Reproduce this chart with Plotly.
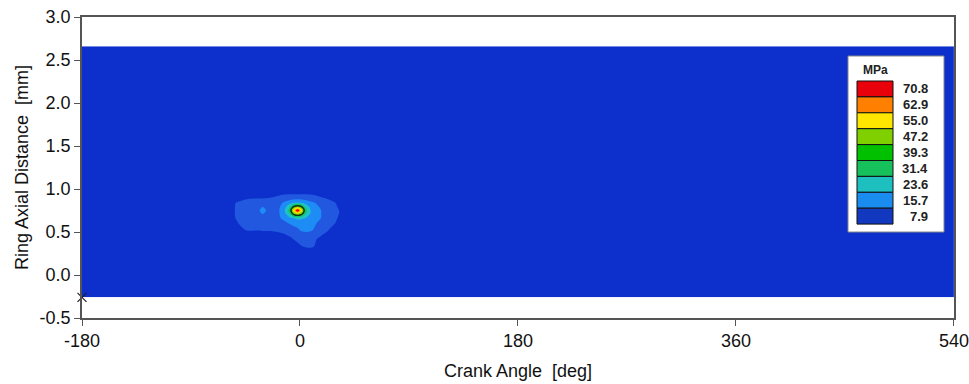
import plotly.graph_objects as go

# ---------------- data ----------------
crank_angle = [-180, -62, -52, -44, -36, -31, -26, -20, -14, -9, -5, -2, 1, 5, 10, 16, 22, 28, 33, 40, 540]
axial_dist = [-0.26, 0.25, 0.33, 0.42, 0.52, 0.60, 0.66, 0.72, 0.75, 0.78, 0.84, 0.90, 0.96, 1.05, 2.66]

p_m026 = [3.0, 3.0, 3.0, 3.0, 3.0, 3.0, 3.0, 3.0, 3.0, 3.0, 3.0, 3.0, 3.0, 3.0, 3.0, 3.0, 3.0, 3.0, 3.0, 3.0, 3.0]
p_025 = [3.5, 3.5, 3.5, 3.5, 3.5, 3.5, 3.5, 3.5, 3.5, 3.5, 3.5, 3.5, 3.5, 3.5, 3.5, 3.5, 3.5, 3.5, 3.5, 3.5, 3.5]
p_033 = [3.5, 3.5, 3.5, 3.5, 3.5, 3.5, 3.5, 3.5, 4.0, 4.5, 5.5, 6.5, 7.5, 8.5, 8.5, 6.0, 4.5, 4.0, 3.5, 3.5, 3.5]
p_042 = [3.5, 3.5, 4.0, 4.0, 4.0, 4.0, 4.0, 4.5, 5.0, 6.5, 8.2, 9.0, 10.0, 10.5, 9.5, 7.0, 5.5, 4.5, 4.0, 3.5, 3.5]
p_052 = [3.5, 4.0, 6.0, 8.0, 8.0, 8.2, 8.2, 8.5, 9.5, 11.0, 12.5, 14.0, 16.5, 17.0, 16.0, 11.5, 8.5, 6.0, 4.5, 4.0, 3.5]
p_060 = [3.5, 5.0, 7.5, 10.0, 10.5, 11.0, 11.0, 11.0, 13.0, 16.0, 18.0, 19.0, 19.5, 19.0, 17.5, 14.5, 10.5, 8.2, 6.5, 4.5, 3.5]
p_066 = [3.5, 5.0, 8.3, 11.0, 12.0, 12.5, 12.5, 13.0, 17.0, 21.0, 23.5, 25.0, 24.5, 23.0, 19.5, 16.5, 13.0, 9.0, 7.0, 4.5, 3.5]
p_072 = [3.5, 5.0, 8.5, 11.5, 13.0, 16.5, 14.0, 12.5, 19.0, 31.0, 52.0, 59.0, 52.0, 32.0, 20.5, 16.5, 13.5, 10.5, 7.5, 4.5, 3.5]
p_075 = [3.5, 5.0, 8.5, 11.5, 13.5, 17.5, 14.5, 12.5, 19.0, 34.0, 60.0, 80.0, 60.0, 34.0, 20.0, 16.5, 13.5, 10.0, 7.5, 4.5, 3.5]
p_078 = [3.5, 5.0, 8.5, 11.5, 13.0, 16.5, 14.0, 12.5, 18.5, 31.0, 52.0, 59.0, 52.0, 31.0, 19.5, 16.0, 12.5, 9.5, 7.0, 4.5, 3.5]
p_084 = [3.5, 5.0, 8.2, 11.0, 12.0, 12.5, 12.5, 12.5, 16.0, 20.5, 23.0, 24.0, 23.0, 20.5, 17.0, 14.0, 11.0, 8.5, 6.0, 4.0, 3.5]
p_090 = [3.5, 4.5, 5.5, 6.5, 7.0, 7.0, 7.5, 8.5, 10.0, 11.0, 11.5, 11.5, 11.5, 11.0, 10.0, 8.5, 7.0, 5.5, 4.5, 4.0, 3.5]
p_096 = [3.5, 4.0, 4.5, 5.0, 5.0, 5.0, 5.5, 5.5, 6.0, 6.0, 6.0, 6.0, 6.0, 6.0, 6.0, 5.5, 5.0, 4.5, 4.0, 3.5, 3.5]
p_105 = [3.5, 3.5, 3.5, 3.5, 3.5, 3.5, 3.5, 3.5, 3.5, 3.5, 3.5, 3.5, 3.5, 3.5, 3.5, 3.5, 3.5, 3.5, 3.5, 3.5, 3.5]
p_266 = [3.5, 3.5, 3.5, 3.5, 3.5, 3.5, 3.5, 3.5, 3.5, 3.5, 3.5, 3.5, 3.5, 3.5, 3.5, 3.5, 3.5, 3.5, 3.5, 3.5, 3.5]

pressure = [p_m026, p_025, p_033, p_042, p_052, p_060, p_066, p_072, p_075, p_078,
            p_084, p_090, p_096, p_105, p_266]

level_start = 7.865
level_step = 7.865
level_end = 70.785
ring_level = 44.0

legend_labels = ["70.8", "62.9", "55.0", "47.2", "39.3", "31.4", "23.6", "15.7", "7.9"]
legend_colors = ["#E8000A", "#FF8000", "#FFE600", "#80D000", "#00C000",
                 "#16C05A", "#1DBFBF", "#1A8CF0", "#1238C0"]

band_colors = ["#0D2FCC", "#2257E0", "#1E8CF5", "#1EC4C4", "#12C46A",
               "#10C010", "#88D600", "#FFE800", "#FF8C00", "#F00000"]

x_ticks = [-180, 0, 180, 360, 540]
y_ticks = [-0.5, 0.0, 0.5, 1.0, 1.5, 2.0, 2.5, 3.0]

# ---------------- layout geometry (pixels) ----------------
W, H = 969, 384
L, R, T, B = 82, 954, 17, 318


def px_x(px):
    return (px - L) / (R - L)


def px_y(py):
    return (B - py) / (B - T)


# stepped colorscale: band k is sampled at k/(n-1)
n = len(band_colors)
cscale = []
for k, c in enumerate(band_colors):
    lo = max(0.0, (k - 0.5) / (n - 1))
    hi = min(1.0, (k + 0.5) / (n - 1))
    cscale.append([lo, c])
    cscale.append([hi, c])

font_family = "Liberation Sans, Arial, sans-serif"

fig = go.Figure()

fig.add_trace(go.Contour(
    x=crank_angle, y=axial_dist, z=pressure,
    colorscale=cscale,
    contours=dict(start=level_start, end=level_end, size=level_step, coloring="fill"),
    line=dict(width=0, smoothing=0.85),
    showscale=False,
    hoverinfo="skip",
))

fig.add_trace(go.Contour(
    x=crank_angle, y=axial_dist, z=pressure,
    contours=dict(start=ring_level, end=ring_level, size=1, coloring="none"),
    line=dict(width=1.4, color="#13351a", smoothing=0.85),
    showscale=False,
    hoverinfo="skip",
))

fig.add_trace(go.Scatter(
    x=[crank_angle[0]], y=[axial_dist[0]], mode="markers",
    marker=dict(symbol="x-thin", size=9, line=dict(width=1.2, color="#222")),
    cliponaxis=False, showlegend=False, hoverinfo="skip",
))

# ---------------- in-plot legend box ----------------
shapes = []
annotations = []
box_l, box_r, box_t, box_b = 848, 944, 56, 232
shapes.append(dict(type="rect", xref="paper", yref="paper",
                   x0=px_x(box_l), x1=px_x(box_r), y0=px_y(box_b), y1=px_y(box_t),
                   fillcolor="white", line=dict(color="#888", width=1)))
annotations.append(dict(xref="paper", yref="paper", x=px_x(861), y=px_y(70),
                        xanchor="left", yanchor="middle", text="<b>MPa</b>", showarrow=False,
                        font=dict(family=font_family, size=12, color="#222")))
sw_l, sw_r, sw_t, sw_h = 857, 893, 81, 15.9
for i, (lab, col) in enumerate(zip(legend_labels, legend_colors)):
    y0 = sw_t + i * sw_h
    y1 = y0 + sw_h
    shapes.append(dict(type="rect", xref="paper", yref="paper",
                       x0=px_x(sw_l), x1=px_x(sw_r), y0=px_y(y1), y1=px_y(y0),
                       fillcolor=col, line=dict(color="#111", width=1)))
    annotations.append(dict(xref="paper", yref="paper", x=px_x(930), y=px_y((y0 + y1) / 2),
                            xanchor="right", yanchor="middle", text="<b>" + lab + "</b>",
                            showarrow=False,
                            font=dict(family=font_family, size=13, color="#222")))

axis_common = dict(
    showline=True, linecolor="#555", linewidth=1.5, mirror=True,
    ticks="outside", ticklen=6, tickcolor="#555", tickwidth=1.2,
    showgrid=False, zeroline=False, automargin=False,
    tickfont=dict(family=font_family, size=18, color="#111"),
)

fig.update_layout(
    width=W, height=H,
    margin=dict(l=L, r=W - R, t=T, b=H - B),
    paper_bgcolor="white", plot_bgcolor="white",
    showlegend=False,
    shapes=shapes, annotations=annotations,
    xaxis=dict(range=[-180, 540.05], tickvals=x_ticks, ticktext=[str(v) for v in x_ticks],
               title=dict(text="Crank Angle\u00a0 [deg]", standoff=14,
                          font=dict(family=font_family, size=18, color="#111")),
               **axis_common),
    yaxis=dict(range=[-0.5, 3.0], tickvals=y_ticks, ticktext=["%.1f" % v for v in y_ticks],
               title=dict(text="Ring Axial Distance\u00a0 [mm]", standoff=6,
                          font=dict(family=font_family, size=18, color="#111")),
               **axis_common),
)

fig.write_html("out.html")
